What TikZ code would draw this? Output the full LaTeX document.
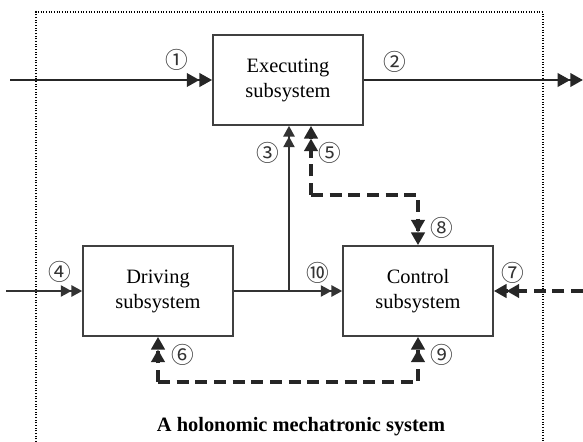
\documentclass[tikz,border=0pt]{standalone}
\usepackage{fontspec}
\setmainfont{Liberation Serif}
\newfontfamily\circfont{Noto Sans CJK SC}
\usetikzlibrary{arrows.meta}
\tikzset{
  subbox/.style={draw=black!75, line width=1.3pt, minimum width=112.5pt, minimum height=67.5pt, align=center, font=\fontsize{15.3}{18.7}\selectfont},
  numlabel/.style={inner sep=0pt, font=\circfont\fontsize{17}{17}\selectfont, text=black!80},
  bigtip/.style={-{Triangle[length=9.5pt,width=10pt]Triangle[length=9.5pt,width=10pt]}},
  smalltip/.style={-{Triangle[length=8pt,width=8.5pt]Triangle[length=8pt,width=8.5pt]}},
  thickline/.style={line width=2pt, draw=black!85},
  thinline/.style={line width=1pt, draw=black!80},
  dashline/.style={line width=2.4pt, draw=black!85, dash pattern=on 9pt off 5pt}
}
\begin{document}
\begin{tikzpicture}[x=0.75pt,y=-0.75pt]
			%%%%% START %%%%%
			\useasboundingbox (0,0) rectangle (583,442);
			
			% frame
			\draw[dash pattern=on 0.7pt off 1.3pt, line width=0.8pt] (36,442) -- (36,12) -- (543,12) -- (543,442);
			
			% blocks
			\node[subbox] (exec) at (288,80) {Executing\\subsystem};
			\node[subbox] (drive) at (158,291) {Driving\\subsystem};
			\node[subbox] (ctrl) at (418,291) {Control\\subsystem};
			
			% outer inputs / outputs
			\coordinate (inone) at (10,80);
			\coordinate (outtwo) at (583,80);
			\coordinate (infour) at (6,291);
			\coordinate (inseven) at (583,291);
			\draw[thickline, bigtip] (inone) -- (exec.west);
			\draw[thickline, bigtip] (exec.east) -- (outtwo);
			\draw[thinline, smalltip] (infour) -- (drive.west);
			\draw[dashline, bigtip] (inseven) -- (ctrl.east);
			
			% driving -> control, branch up to executing
			\draw[thinline, smalltip] (drive.east) -- (ctrl.west);
			\coordinate (branch) at (289,291);
			\draw[thinline, smalltip] (branch) -- (branch |- exec.south);
			
			% dashed loops
			\coordinate (upleft) at (311,195);
			\coordinate (upright) at (418,195);
			\draw[dashline, bigtip] (upleft) -- (upleft |- exec.south);
			\draw[dashline, bigtip] (upleft) -- (upright) -- (ctrl.north);
			\coordinate (lowleft) at (158,382);
			\coordinate (lowright) at (418,382);
			\draw[dashline, bigtip] (lowleft) -- (drive.south);
			\draw[dashline, bigtip] (lowleft) -- (lowright) -- (ctrl.south);
			
			% numbers
			\node[numlabel] (n1) at (177,60) {①};
			\node[numlabel] (n2) at (395,62) {②};
			\node[numlabel] (n3) at (268,153) {③};
			\node[numlabel] (n4) at (60,272) {④};
			\node[numlabel] (n5) at (330,153) {⑤};
			\node[numlabel] (n6) at (183,355) {⑥};
			\node[numlabel] (n7) at (513,273) {⑦};
			\node[numlabel] (n8) at (442,228) {⑧};
			\node[numlabel] (n9) at (442,355) {⑨};
			\node[numlabel] (n10) at (318,273) {⑩};
			
			\node[font=\bfseries\fontsize{15.3}{18.7}\selectfont] (title) at (301,427) {A holonomic mechatronic system};
			%%%%% END %%%%%
\end{tikzpicture}
\end{document}
